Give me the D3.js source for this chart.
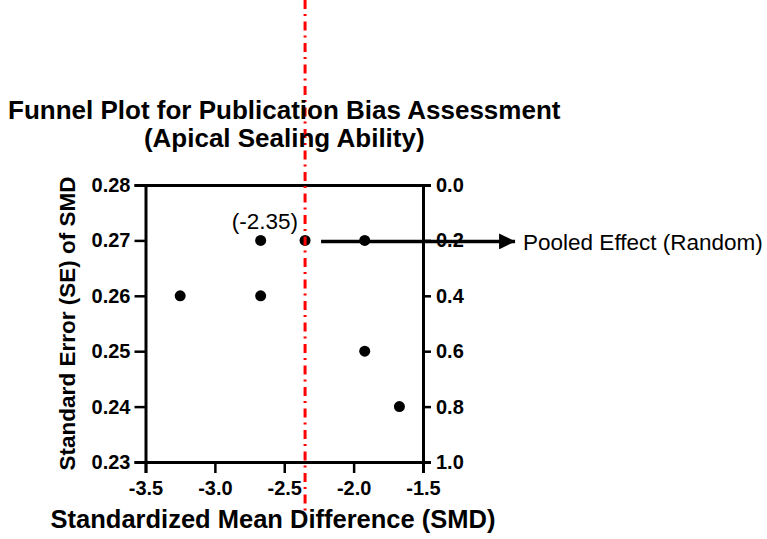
<!DOCTYPE html>
<html>
<head>
<meta charset="utf-8">
<script src="https://cdn.jsdelivr.net/npm/d3@7"></script>
<style>
  body { margin: 0; background: #fff; }
  text { font-family: Arial, "Liberation Sans", sans-serif; }
</style>
</head>
<body>
<div id="scatter"></div>
<script>
// study values
var smdValues = [-3.25, -2.67, -2.67, -2.35, -1.92, -1.92, -1.67];
var seValues = [0.26, 0.27, 0.26, 0.27, 0.27, 0.25, 0.24];
var pooledSmd = -2.35;
var pooledSe = 0.27;

var xTicks = [-3.5, -3.0, -2.5, -2.0, -1.5];
var yTicks = [0.23, 0.24, 0.25, 0.26, 0.27, 0.28];
var y2Ticks = [0.0, 0.2, 0.4, 0.6, 0.8, 1.0];

var titleLines = ["Funnel Plot for Publication Bias Assessment", "(Apical Sealing Ability)"];

var svgWidth = 767;
var svgHeight = 539;

var margin = { top: 185, right: 344, bottom: 77, left: 145.5 };
var width = svgWidth - margin.left - margin.right;
var height = svgHeight - margin.top - margin.bottom;

var svg = d3.select("#scatter")
  .append("svg")
  .attr("width", svgWidth)
  .attr("height", svgHeight);

// arrow marker for the pooled effect pointer
svg.append("defs").append("marker")
  .attr("id", "arrow")
  .attr("viewBox", "0 0 10 10")
  .attr("refX", 10)
  .attr("refY", 5)
  .attr("markerUnits", "userSpaceOnUse")
  .attr("markerWidth", 21)
  .attr("markerHeight", 16)
  .attr("orient", "auto")
  .append("path")
  .attr("d", "M0,0 L10,5 L0,10 Z")
  .attr("fill", "#000");

var chartGroup = svg.append("g")
  .attr("transform", `translate(${margin.left}, ${margin.top})`);

// scales
var xScale = d3.scaleLinear()
  .domain([-3.5, -1.5])
  .range([0, width]);

var yScale = d3.scaleLinear()
  .domain([0.23, 0.28])
  .range([height, 0]);

var y2Scale = d3.scaleLinear()
  .domain([0, 1])
  .range([0, height]);

// axes
var bottomAxis = d3.axisBottom(xScale)
  .tickValues(xTicks)
  .tickFormat(d => d.toFixed(1))
  .tickSize(11)
  .tickPadding(8);

var leftAxis = d3.axisLeft(yScale)
  .tickValues(yTicks)
  .tickFormat(d => d.toFixed(2))
  .tickSize(11)
  .tickPadding(4);

var rightAxis = d3.axisRight(y2Scale)
  .tickValues(y2Ticks)
  .tickFormat(d => d.toFixed(1))
  .tickSize(8)
  .tickPadding(5);

var topAxis = d3.axisTop(xScale)
  .tickValues([])
  .tickSizeOuter(0);

function styleAxis(g) {
  g.select(".domain").attr("stroke-width", 3);
  g.selectAll(".tick line").attr("stroke-width", 2.5);
  g.selectAll(".tick text")
    .attr("font-size", "20px")
    .attr("font-weight", "bold")
    .attr("fill", "#000");
  g.attr("font-family", null);
}

chartGroup.append("g")
  .attr("transform", `translate(0, ${height})`)
  .call(bottomAxis)
  .call(styleAxis);

chartGroup.append("g")
  .call(leftAxis)
  .call(styleAxis);

chartGroup.append("g")
  .call(topAxis)
  .call(styleAxis);

chartGroup.append("g")
  .attr("transform", `translate(${width}, 0)`)
  .call(rightAxis)
  .call(styleAxis);

// study points
chartGroup.selectAll("circle.study")
  .data(smdValues)
  .enter()
  .append("circle")
  .attr("class", "study")
  .attr("cx", d => xScale(d))
  .attr("cy", (d, i) => yScale(seValues[i]))
  .attr("r", 5.5)
  .attr("fill", "#000");

// pooled effect reference line (runs past the plot area)
chartGroup.append("line")
  .attr("x1", xScale(pooledSmd))
  .attr("x2", xScale(pooledSmd))
  .attr("y1", -margin.top)
  .attr("y2", height + 51)
  .attr("stroke", "#ff0000")
  .attr("stroke-width", 3)
  .attr("stroke-dasharray", "9,5,2,5.5");

chartGroup.append("text")
  .attr("x", xScale(pooledSmd) - 7)
  .attr("y", yScale(pooledSe) - 11)
  .attr("text-anchor", "end")
  .attr("font-size", "22.5px")
  .text("(" + pooledSmd.toFixed(2) + ")");

// arrow to the label
chartGroup.append("line")
  .attr("x1", xScale(pooledSmd) + 16)
  .attr("x2", xScale(pooledSmd) + 210)
  .attr("y1", yScale(pooledSe) + 1)
  .attr("y2", yScale(pooledSe) + 1)
  .attr("stroke", "#000")
  .attr("stroke-width", 3.5)
  .attr("marker-end", "url(#arrow)");

chartGroup.append("text")
  .attr("x", xScale(pooledSmd) + 218)
  .attr("y", yScale(pooledSe) + 10)
  .attr("font-size", "22.5px")
  .text("Pooled Effect (Random)");

// titles
svg.selectAll("text.title")
  .data(titleLines)
  .enter()
  .append("text")
  .attr("class", "title")
  .attr("x", margin.left + width / 2)
  .attr("y", (d, i) => 119 + i * 28)
  .attr("text-anchor", "middle")
  .attr("font-size", "26px")
  .attr("font-weight", "bold")
  .text(d => d);

svg.append("text")
  .attr("transform", `translate(75, ${margin.top + height / 2}) rotate(-90)`)
  .attr("text-anchor", "middle")
  .attr("font-size", "22.5px")
  .attr("font-weight", "bold")
  .text("Standard Error (SE) of SMD");

svg.append("text")
  .attr("x", 273)
  .attr("y", 528)
  .attr("text-anchor", "middle")
  .attr("font-size", "25.5px")
  .attr("font-weight", "bold")
  .text("Standardized Mean Difference (SMD)");
</script>
</body>
</html>
